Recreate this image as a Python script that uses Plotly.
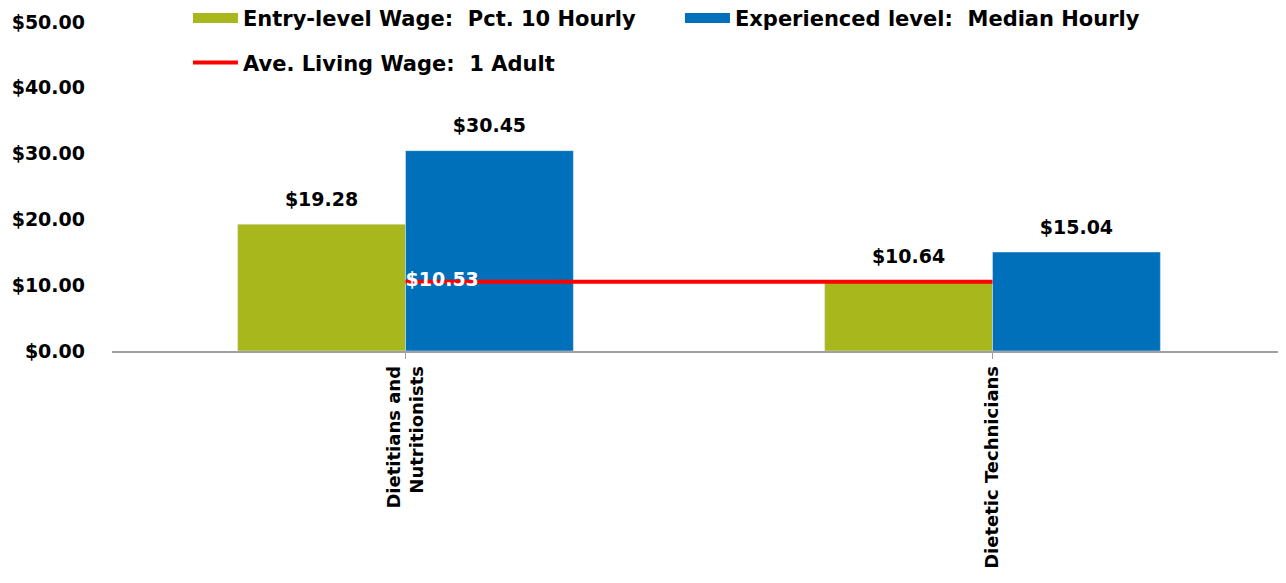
import plotly.graph_objects as go

categories = ["Dietitians and<br>Nutritionists", "Dietetic Technicians"]
entry_wage = [19.28, 10.64]
median_wage = [30.45, 15.04]
living_wage = [10.53, 10.53]
living_labels = ["$10.53", ""]
y_ticks = [0, 10, 20, 30, 40, 50]
y_tick_text = ["$0.00", "$10.00", "$20.00", "$30.00", "$40.00", "$50.00"]

FONT = "DejaVu Sans"
NB = "\u00a0"
GREEN = "#A8B71C"
BLUE = "#0070BB"
RED = "#FF0000"
GAP = 0.428

fig = go.Figure()
fig.add_trace(go.Bar(
    x=categories, y=entry_wage, name="entry", marker_color=GREEN,
    offsetgroup="a", showlegend=False, hoverinfo="x+y",
))
fig.add_trace(go.Bar(
    x=categories, y=median_wage, name="median", marker_color=BLUE,
    offsetgroup="b", showlegend=False, hoverinfo="x+y",
))
# value labels above bars (grouped scatter aligned with bars)
for vals, grp in ((entry_wage, "a"), (median_wage, "b")):
    fig.add_trace(go.Scatter(
        x=categories, y=vals, mode="markers+text", offsetgroup=grp,
        alignmentgroup="labels",
        marker=dict(size=20, opacity=0), text=[f"${v:.2f}" for v in vals],
        textposition="top center", cliponaxis=False,
        textfont=dict(family=FONT, size=19, color="black", weight="bold"),
        showlegend=False, hoverinfo="skip",
    ))
fig.add_trace(go.Scatter(
    x=categories, y=living_wage, name=f"Ave. Living Wage:{NB}{NB}1 Adult",
    mode="lines+text", line=dict(color=RED, width=4),
    alignmentgroup="line", offsetgroup="line",
    text=living_labels, textposition="middle right",
    textfont=dict(family=FONT, size=19, color="white", weight="bold"),
    legend="legend2",
))
# legend swatches for the bar series
fig.add_trace(go.Scatter(
    x=[None], y=[None], mode="lines", line=dict(color=GREEN, width=14),
    alignmentgroup="proxy1", offsetgroup="proxy1",
    name=f"Entry-level Wage:{NB}{NB}Pct. 10 Hourly", legend="legend",
))
fig.add_trace(go.Scatter(
    x=[None], y=[None], mode="lines", line=dict(color=BLUE, width=14),
    alignmentgroup="proxy2", offsetgroup="proxy2",
    name=f"Experienced level:{NB}{NB}Median Hourly", legend="legend",
))

fig.update_layout(
    width=1278, height=575,
    margin=dict(l=104, r=0, t=14, b=232, autoexpand=False),
    paper_bgcolor="white", plot_bgcolor="white",
    barmode="group", bargap=GAP, bargroupgap=0,
    scattermode="group", scattergap=GAP,
    font=dict(family=FONT, size=18, color="black", weight="bold"),
    showlegend=True,
    legend=dict(orientation="h", x=0.0647, y=1.011, xanchor="left", yanchor="middle",
                entrywidth=432, entrywidthmode="pixels", itemwidth=45,
                font=dict(family=FONT, size=21, weight="bold"), bgcolor="rgba(0,0,0,0)",
                traceorder="normal"),
    legend2=dict(orientation="h", x=0.0647, y=0.876, xanchor="left", yanchor="middle",
                 itemwidth=45, font=dict(family=FONT, size=21, weight="bold"),
                 bgcolor="rgba(0,0,0,0)"),
    xaxis=dict(showline=True, linecolor="#A0A0A0", linewidth=1.5,
               ticks="outside", tickcolor="#A0A0A0", ticklen=6,
               tickangle=-90, tickfont=dict(family=FONT, size=18, weight="bold")),
    yaxis=dict(range=[0, 50], tickvals=y_ticks, ticktext=y_tick_text,
               showgrid=False, zeroline=False, showline=False,
               tickfont=dict(family=FONT, size=19, weight="bold"), ticklabelstandoff=26),
)
fig.write_html("out.html")
